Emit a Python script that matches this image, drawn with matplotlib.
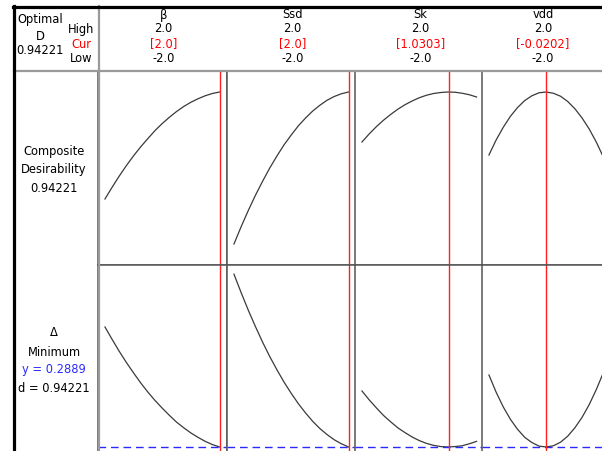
import matplotlib
matplotlib.use("Agg")
import matplotlib.pyplot as plt
from matplotlib.lines import Line2D

# ---- data -------------------------------------------------------------
factors = ["β", "Ssd", "Sk", "vdd"]
high_labels = ["2.0", "2.0", "2.0", "2.0"]
low_labels = ["-2.0", "-2.0", "-2.0", "-2.0"]
cur_values = [2.0, 2.0, 1.0303, -0.0202]
cur_labels = ["[2.0]", "[2.0]", "[1.0303]", "[-0.0202]"]

x_levels = [-2.0, -1.75, -1.5, -1.25, -1.0, -0.75, -0.5, -0.25, 0.0,
            0.25, 0.5, 0.75, 1.0, 1.25, 1.5, 1.75, 2.0]

# composite desirability along each factor
desir_beta = [0.514, 0.561, 0.606, 0.648, 0.687, 0.723, 0.756, 0.788, 0.816,
              0.841, 0.864, 0.884, 0.901, 0.915, 0.927, 0.936, 0.942]
desir_ssd = [0.334, 0.403, 0.468, 0.529, 0.585, 0.638, 0.686, 0.731, 0.770,
             0.807, 0.838, 0.866, 0.889, 0.909, 0.924, 0.935, 0.942]
desir_sk = [0.742, 0.774, 0.803, 0.829, 0.852, 0.873, 0.891, 0.906, 0.919,
            0.929, 0.936, 0.940, 0.942, 0.941, 0.937, 0.931, 0.922]
desir_vdd = [0.690, 0.750, 0.801, 0.845, 0.880, 0.908, 0.927, 0.939, 0.942,
             0.937, 0.925, 0.904, 0.875, 0.838, 0.794, 0.741, 0.680]

# response Δ along each factor
delta_beta = [0.589, 0.558, 0.528, 0.500, 0.474, 0.449, 0.426, 0.405, 0.386,
              0.368, 0.351, 0.337, 0.324, 0.313, 0.303, 0.295, 0.289]
delta_ssd = [0.721, 0.675, 0.631, 0.590, 0.551, 0.515, 0.482, 0.451, 0.423,
             0.397, 0.374, 0.353, 0.335, 0.320, 0.307, 0.297, 0.289]
delta_sk = [0.429, 0.407, 0.387, 0.368, 0.352, 0.337, 0.325, 0.314, 0.305,
            0.298, 0.293, 0.290, 0.289, 0.290, 0.292, 0.297, 0.303]
delta_vdd = [0.469, 0.426, 0.389, 0.358, 0.333, 0.313, 0.300, 0.291, 0.289,
             0.292, 0.301, 0.316, 0.337, 0.363, 0.395, 0.433, 0.476]

desirability = [desir_beta, desir_ssd, desir_sk, desir_vdd]
delta = [delta_beta, delta_ssd, delta_sk, delta_vdd]

optimal_D = "0.94221"
y_opt = 0.2889
y_label = "y = 0.2889"
d_label = "d = 0.94221"

# ---- layout (pixels) ----------------------------------------------------
W, H = 602, 451
fig = plt.figure(figsize=(W / 100, H / 100), dpi=100)
fig.patch.set_facecolor("white")


def fx(px):
    return px / W


def fy(py):
    return 1 - py / H


col_left = [98, 227, 355, 482]
col_w = 128.5
row_top, row_mid, row_bot = 71, 265, 455
xlim = (-2.243, 2.243)
ylim_d = (0.250, 1.026)
ylim_y = (0.2689, 0.744)

spine_c = "#555555"
curve_c = "#3a3a3a"

for i in range(4):
    L = col_left[i]
    for r, (top, bot) in enumerate([(row_top, row_mid), (row_mid, row_bot)]):
        ax = fig.add_axes([fx(L), fy(bot), col_w / W, (bot - top) / H])
        ax.set_xlim(*xlim)
        if r == 0:
            ax.set_ylim(*ylim_d)
            ax.plot(x_levels, desirability[i], color=curve_c, lw=0.9)
        else:
            ax.set_ylim(*ylim_y)
            ax.plot(x_levels, delta[i], color=curve_c, lw=0.9)
            ax.axhline(y_opt, color="#2a2aff", lw=1.0, dashes=(5.5, 3.5))
        ax.axvline(cur_values[i], color="#ff2020", lw=1.0)
        ax.set_xticks([])
        ax.set_yticks([])
        for s in ax.spines.values():
            s.set_color(spine_c)
            s.set_linewidth(1.1)

# frame lines
fig.add_artist(Line2D([fx(14), 1.02], [fy(71), fy(71)], color="#9a9a9a", lw=1.6))
fig.add_artist(Line2D([fx(98.5), fx(98.5)], [fy(6), fy(460)], color="#9a9a9a", lw=1.6))
fig.add_artist(Line2D([fx(13), 1.02], [fy(6.5), fy(6.5)], color="black", lw=2.3))
fig.add_artist(Line2D([fx(14), fx(14)], [fy(5.5), fy(460)], color="black", lw=2.3))

fs = 8.3
# header, top-left block
fig.text(fx(40), fy(20), "Optimal", ha="center", va="center", fontsize=fs)
fig.text(fx(40), fy(36), "D", ha="center", va="center", fontsize=fs)
fig.text(fx(40), fy(51), optimal_D, ha="center", va="center", fontsize=fs)
fig.text(fx(81), fy(30), "High", ha="center", va="center", fontsize=fs)
fig.text(fx(81), fy(44), "Cur", ha="center", va="center", fontsize=fs, color="red")
fig.text(fx(81), fy(58), "Low", ha="center", va="center", fontsize=fs)

# factor headers
for i in range(4):
    cx = col_left[i] + col_w / 2 + 1
    if i == 3:
        cx = 543
    fig.text(fx(cx), fy(15), factors[i], ha="center", va="center", fontsize=fs)
    fig.text(fx(cx), fy(29), high_labels[i], ha="center", va="center", fontsize=fs)
    fig.text(fx(cx), fy(44), cur_labels[i], ha="center", va="center", fontsize=fs, color="red")
    fig.text(fx(cx), fy(58), low_labels[i], ha="center", va="center", fontsize=fs)

# row labels
lx = 54
fig.text(fx(lx), fy(151), "Composite", ha="center", va="center", fontsize=fs)
fig.text(fx(lx), fy(169), "Desirability", ha="center", va="center", fontsize=fs)
fig.text(fx(lx), fy(188), optimal_D, ha="center", va="center", fontsize=fs)

fig.text(fx(lx), fy(332), "Δ", ha="center", va="center", fontsize=fs)
fig.text(fx(lx), fy(352), "Minimum", ha="center", va="center", fontsize=fs)
fig.text(fx(lx), fy(370), y_label, ha="center", va="center", fontsize=fs, color="#2a2aff")
fig.text(fx(lx), fy(389), d_label, ha="center", va="center", fontsize=fs)

fig.savefig("out.png", dpi=100)
